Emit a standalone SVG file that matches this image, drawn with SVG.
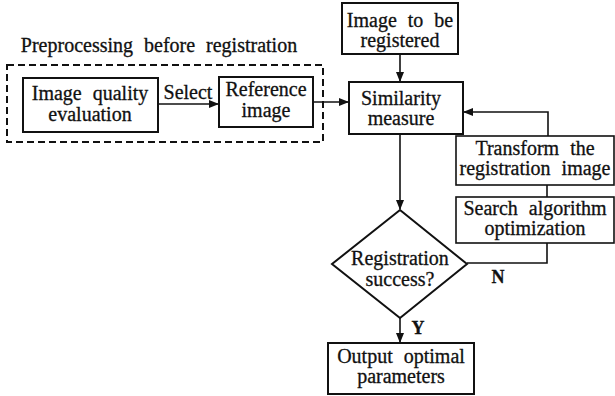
<svg xmlns="http://www.w3.org/2000/svg" width="615" height="396" viewBox="0 0 615 396">
<defs>
<marker id="ah" markerWidth="10" markerHeight="8" refX="9" refY="4" orient="auto" markerUnits="userSpaceOnUse">
<path d="M0,0 L10,4 L0,8 z" fill="#111"/>
</marker>
<style>
text{font-family:"Liberation Serif","Times New Roman",serif;font-size:20px;fill:#111;stroke:#111;stroke-width:0.3;text-anchor:middle;word-spacing:6px}
.lbl{font-weight:bold;font-size:18px}
.box{fill:#fff;stroke:#111;stroke-width:2}
.thin{fill:#fff;stroke:#111;stroke-width:1.6}
.ln{fill:none;stroke:#111;stroke-width:1.6}
</style>
</defs>
<rect width="615" height="396" fill="#fff"/>
<g id="preprocessing">
<text x="159" y="52">Preprocessing before registration</text>
<rect x="7" y="65" width="316" height="77" fill="none" stroke="#111" stroke-width="2" stroke-dasharray="7,4"/>
</g>
<g id="connectors">
<line class="ln" x1="158" y1="104" x2="218" y2="104" marker-end="url(#ah)"/>
<text x="188" y="99">Select</text>
<line class="ln" x1="313" y1="102" x2="348" y2="102" marker-end="url(#ah)"/>
<line class="ln" x1="400" y1="54" x2="400" y2="81" marker-end="url(#ah)"/>
<line class="ln" x1="400" y1="134" x2="400" y2="209" marker-end="url(#ah)"/>
<polyline class="ln" points="548,136 548,112 464,112" marker-end="url(#ah)"/>
<line class="ln" x1="547" y1="185" x2="547" y2="197"/>
<polyline class="ln" points="547,243 547,263 467,263"/>
<text class="lbl" x="498" y="283">N</text>
<line class="ln" x1="400" y1="318" x2="400" y2="342" marker-end="url(#ah)"/>
<text class="lbl" x="418" y="334">Y</text>
</g>
<g id="quality">
<rect class="box" x="23" y="78" width="135" height="54"/>
<text x="90" y="100">Image quality</text>
<text x="90" y="121">evaluation</text>
</g>
<g id="reference">
<rect class="box" x="219" y="77" width="94" height="50"/>
<text x="266" y="96">Reference</text>
<text x="266" y="117">image</text>
</g>
<g id="toregister">
<rect class="box" x="342" y="3" width="116" height="51"/>
<text x="400" y="27">Image to be</text>
<text x="400" y="47">registered</text>
</g>
<g id="similarity">
<rect class="box" x="349" y="82" width="114" height="52"/>
<text x="401" y="105">Similarity</text>
<text x="401" y="125">measure</text>
</g>
<g id="transform">
<rect class="thin" x="456" y="136" width="158" height="49"/>
<text x="535" y="155">Transform the</text>
<text x="535" y="175">registration image</text>
</g>
<g id="search">
<rect class="thin" x="456" y="197" width="158" height="46"/>
<text x="535" y="215">Search algorithm</text>
<text x="535" y="235">optimization</text>
</g>
<g id="decision">
<polygon points="400,210 467,264 400,318 332,264" fill="#fff" stroke="#111" stroke-width="2"/>
<text x="400" y="265">Registration</text>
<text x="400" y="286">success?</text>
</g>
<g id="output">
<rect class="box" x="328" y="343" width="146" height="51"/>
<text x="401" y="363">Output optimal</text>
<text x="401" y="383">parameters</text>
</g>
</svg>
